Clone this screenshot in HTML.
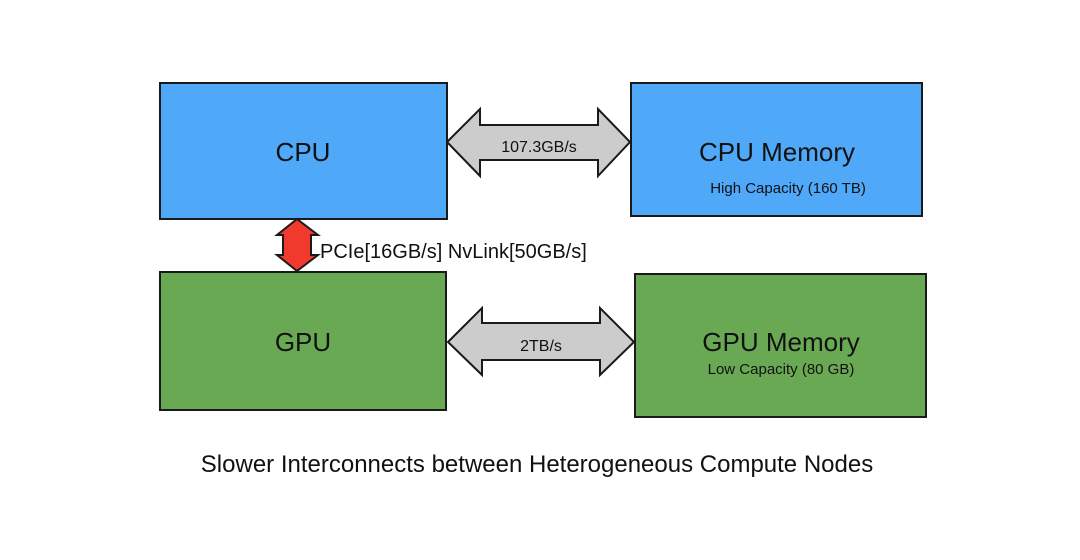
<!DOCTYPE html>
<html><head><style>
body{margin:0;background:#fff;}
svg text{font-family:"Liberation Sans",Arial,sans-serif;fill:#111;}
</style></head><body>
<svg width="1080" height="555" viewBox="0 0 1080 555" xmlns="http://www.w3.org/2000/svg">
<rect width="1080" height="555" fill="#fff"/>
<g stroke="#1a1a1a" stroke-width="2">
<rect x="160" y="83" width="287" height="136" fill="#4fa8f8"/>
<rect x="631" y="83" width="291" height="133" fill="#4fa8f8"/>
<rect x="160" y="272" width="286" height="138" fill="#6aa953"/>
<rect x="635" y="274" width="291" height="143" fill="#6aa953"/>
<polygon points="447,142 480,109 480,125 598,125 598,109 630,142 598,176 598,160 480,160 480,176" fill="#cccccc"/>
<polygon points="448,342 482,308 482,323 600,323 600,308 634,342 600,375 600,360 482,360 482,375" fill="#cccccc"/>
<polygon points="297,219 318,235 311,235 311,255 318,255 297,271 277,255 283,255 283,235 277,235" fill="#f03a2e"/>
</g>
<text x="303" y="161" font-size="26" text-anchor="middle">CPU</text>
<text x="539" y="152" font-size="16" text-anchor="middle">107.3GB/s</text>
<text x="777" y="161" font-size="26" text-anchor="middle">CPU Memory</text>
<text x="788" y="193" font-size="15" text-anchor="middle">High Capacity (160 TB)</text>
<text x="320" y="258" font-size="20">PCIe[16GB/s] NvLink[50GB/s]</text>
<text x="303" y="351" font-size="26" text-anchor="middle">GPU</text>
<text x="541" y="351" font-size="16" text-anchor="middle">2TB/s</text>
<text x="781" y="351" font-size="26" text-anchor="middle">GPU Memory</text>
<text x="781" y="374" font-size="15" text-anchor="middle">Low Capacity (80 GB)</text>
<text x="537" y="472" font-size="24" text-anchor="middle" fill="#222">Slower Interconnects between Heterogeneous Compute Nodes</text>
</svg>
</body></html>
